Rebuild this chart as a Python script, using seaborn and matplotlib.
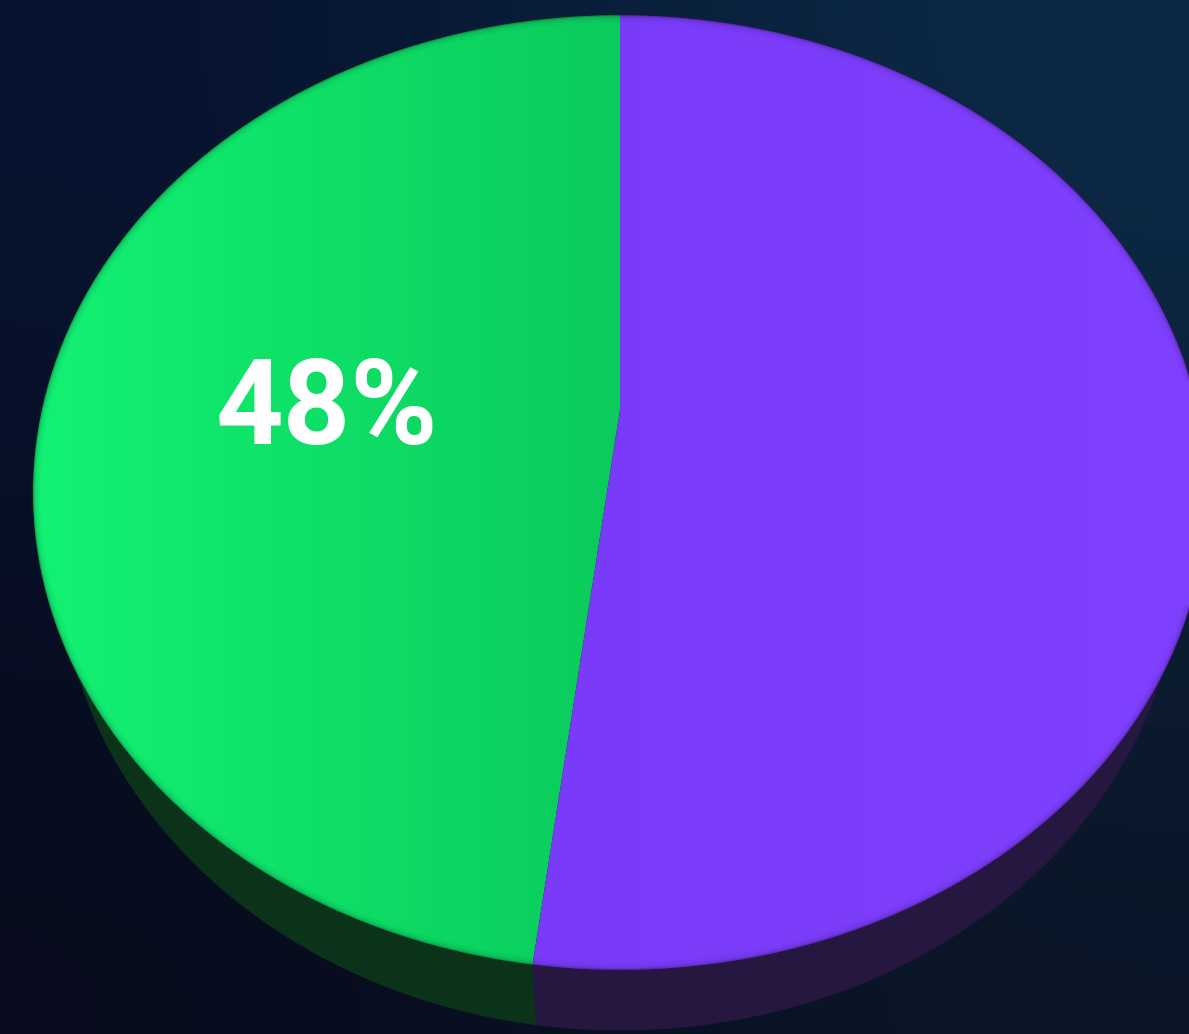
import numpy as np
import matplotlib
matplotlib.use("Agg")
import matplotlib.pyplot as plt
from matplotlib.patches import Polygon
from matplotlib.colors import to_rgb
import seaborn as sns

# Data: two-part share, drawn as a tilted 3D pie
categories = ["Green", "Purple"]
shares = [48, 52]
face_left_colors = ["#13f273", "#7a3bf8"]
face_right_colors = ["#0acb5b", "#8040ff"]
side_colors = ["#0b3319", "#261740"]
value_labels = ["48%", ""]

sns.set_theme(style="dark")
plt.rcParams["font.family"] = ["Roboto", "DejaVu Sans"]

W, H = 1189, 1034
fig = plt.figure(figsize=(W / 100, H / 100), dpi=100)
ax = fig.add_axes([0, 0, 1, 1])
ax.set_xlim(0, W)
ax.set_ylim(H, 0)
ax.axis("off")

# Background: soft navy gradient
corners = np.array([[to_rgb("#07132f"), to_rgb("#0c2b48")],
                    [to_rgb("#070b1c"), to_rgb("#0b1628")]])
ax.imshow(corners, extent=[0, W, H, 0], interpolation="bicubic",
          aspect="auto", zorder=0)

# Perspective geometry of the disc (screen pixels)
CX, CY = 620, 410
A, B, K = 578, 463, 0.173
DEPTH = 60
BOTTOM_SCALE = 0.955


def project(theta, r=1.0):
    u = r * np.cos(theta)
    v = r * np.sin(theta)
    d = 1 + K * v
    return CX + A * u / d, CY - B * v / d


fracs = np.array(shares, dtype=float) / sum(shares)
starts = np.deg2rad(90) + 2 * np.pi * np.concatenate([[0], np.cumsum(fracs)[:-1]])
ends = starts + 2 * np.pi * fracs

# Sides of the cylinder (bottom rim narrows slightly with perspective)
for s, e, sc in zip(starts, ends, side_colors):
    t = np.linspace(s, e, 400)
    x, y = project(t)
    xb = CX + (x - CX) * BOTTOM_SCALE
    yb = y + DEPTH
    xs = np.concatenate([x, xb[::-1]])
    ys = np.concatenate([y, yb[::-1]])
    ax.add_patch(Polygon(np.column_stack([xs, ys]), closed=True,
                         facecolor=sc, edgecolor=sc, lw=0.8, zorder=2))

# Top faces with a horizontal tint gradient and a soft inner rim
for s, e, cl, cr, lab in zip(starts, ends, face_left_colors,
                             face_right_colors, value_labels):
    t = np.linspace(s, e, 400)
    x, y = project(t)
    px = np.concatenate([[CX], x])
    py = np.concatenate([[CY], y])
    poly = Polygon(np.column_stack([px, py]), closed=True,
                   facecolor="none", edgecolor="none", zorder=3)
    ax.add_patch(poly)
    x0, x1 = px.min(), px.max()
    y0, y1 = py.min(), py.max()
    ramp = np.linspace(0, 1, 256)[None, :, None]
    grad = np.array(to_rgb(cl))[None, None, :] * (1 - ramp) + \
        np.array(to_rgb(cr))[None, None, :] * ramp
    im = ax.imshow(grad, extent=[x0, x1, y1, y0], aspect="auto",
                   interpolation="bilinear", zorder=3)
    im.set_clip_path(poly)
    for lw, al in [(10, 0.03), (6, 0.05), (3, 0.08), (1.5, 0.15)]:
        ln, = ax.plot(x, y, color="#0a0820", lw=lw, alpha=al,
                      solid_capstyle="butt", zorder=4)
        ln.set_clip_path(poly)
    if lab:
        mid = (s + e) / 2
        lx, ly = project(mid, 0.51)
        ax.annotate(lab, (lx, ly), xytext=(0, -12), textcoords="offset points",
                    color="white", fontsize=85, fontweight="bold",
                    ha="center", va="center", zorder=5)

fig.savefig("out.png", dpi=100)
